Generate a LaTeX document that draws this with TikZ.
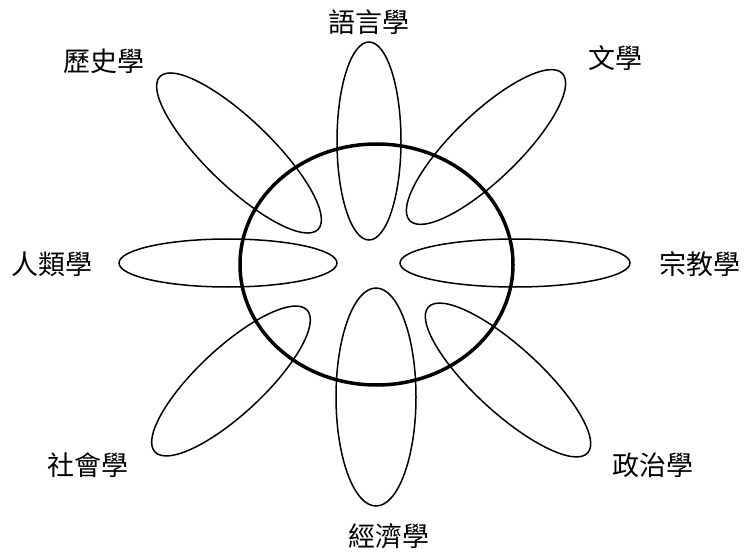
\documentclass[tikz,border=0pt]{standalone}
\usepackage{fontspec}
\newfontfamily\cjk{Noto Sans CJK TC}
\begin{document}
\begin{tikzpicture}[x=1pt,y=1pt,
	petal/.style={line width=1.5pt},
	hub/.style={line width=3.5pt},
	field/.style={font=\cjk\fontsize{27}{30}\selectfont, inner sep=0pt}]
	\useasboundingbox (0,0) rectangle (744,555);
	%\draw[gray!50, thin, step=50] (0,0) grid (744,555);
	% petals
	\draw[petal] (369,414) ellipse (32 and 99);
	\draw[petal] (376,158) ellipse (40 and 109);
	\draw[petal] (228,292) ellipse (109 and 24);
	\draw[petal] (515,292) ellipse (115 and 24);
	\draw[petal, rotate around={-44:(239,402)}] (239,402) ellipse (110 and 33);
	\draw[petal, rotate around={44:(486,408)}] (486,408) ellipse (106 and 33);
	\draw[petal, rotate around={43:(231,174)}] (231,174) ellipse (104 and 33);
	\draw[petal, rotate around={-42.5:(508,175)}] (508,175) ellipse (108 and 33);
	% centre
	\draw[hub] (376.5,290.5) ellipse (136.5 and 120.5);
	% labels
	\node[field] (ling) at (369,533) {語言學};
	\node[field] (lit) at (615,497) {文學};
	\node[field] (hist) at (104,494) {歷史學};
	\node[field] (anth) at (52,291) {人類學};
	\node[field] (reli) at (700,291) {宗教學};
	\node[field] (soci) at (88,90) {社會學};
	\node[field] (poli) at (653,90) {政治學};
	\node[field] (econ) at (389,19) {經濟學};
\end{tikzpicture}
\end{document}
